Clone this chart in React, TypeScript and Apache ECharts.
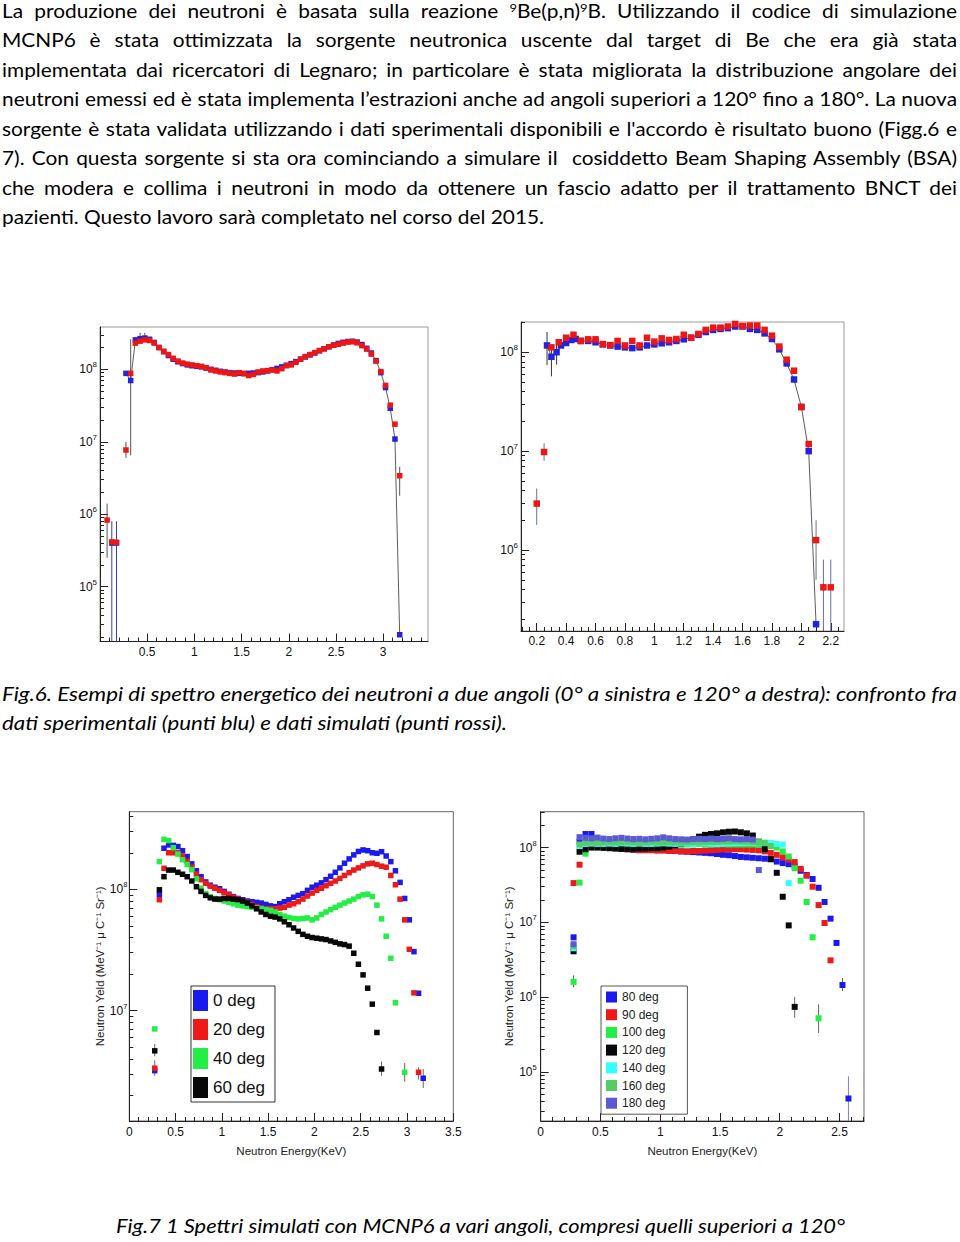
import React, { useEffect, useLayoutEffect, useRef } from 'react';
import * as echarts from 'echarts';

// ================= Fig. 6 left : 0 deg, measured (blue) vs simulated (red)
const fig6aEnergy = [0.075,0.125,0.175,0.225,0.275,0.325,0.375,0.425,0.475,0.525,0.575,0.625,0.675,0.725,0.775,0.825,0.875,0.925,0.975,1.025,1.075,1.125,1.175,1.225,1.275,1.325,1.375,1.425,1.475,1.525,1.575,1.625,1.675,1.725,1.775,1.825,1.875,1.925,1.975,2.025,2.075,2.125,2.175,2.225,2.275,2.325,2.375,2.425,2.475,2.525,2.575,2.625,2.675,2.725,2.775,2.825,2.875,2.925,2.975,3.025,3.075,3.125,3.175];
const fig6aSimulated = [8.3e5,4.15e5,4.1e5,null,7.7e6,8.8e7,2.3e8,2.45e8,2.55e8,2.5e8,2.3e8,2.0e8,1.78e8,1.6e8,1.42e8,1.3e8,1.22e8,1.18e8,1.15e8,1.12e8,1.1e8,1.05e8,9.8e7,9.5e7,9.2e7,9.0e7,8.8e7,8.6e7,9.0e7,8.8e7,8.2e7,8.5e7,9.2e7,9.5e7,9.6e7,9.8e7,9.5e7,1.02e8,1.12e8,1.15e8,1.25e8,1.38e8,1.5e8,1.6e8,1.7e8,1.82e8,1.92e8,2.05e8,2.15e8,2.22e8,2.3e8,2.38e8,2.4e8,2.32e8,2.12e8,1.9e8,1.62e8,1.3e8,9.3e7,6.0e7,3.2e7,1.75e7,3.4e6];
const fig6aMeasured = [null,4.0e5,4.0e5,null,8.8e7,7.0e7,2.55e8,2.65e8,2.7e8,2.6e8,2.35e8,2.0e8,1.75e8,1.55e8,1.38e8,1.27e8,1.2e8,1.15e8,1.12e8,1.1e8,1.08e8,1.04e8,1.0e8,9.7e7,9.4e7,9.2e7,9.0e7,8.9e7,8.8e7,8.7e7,8.8e7,8.9e7,9.0e7,9.2e7,9.5e7,9.9e7,1.03e8,1.08e8,1.14e8,1.2e8,1.28e8,1.38e8,1.48e8,1.58e8,1.68e8,1.8e8,1.92e8,2.05e8,2.17e8,2.28e8,2.36e8,2.42e8,2.44e8,2.38e8,2.2e8,1.95e8,1.68e8,1.32e8,9.0e7,5.6e7,2.9e7,1.09e7,2.17e4];
const fig6aErrors = [[0.075,2.5e5,1.4e6],[0.275,6.0e6,1.0e7],[0.325,6.5e6,2.6e8],[0.425,2.4e8,3.2e8],[0.475,2.5e8,3.2e8],[3.175,1.8e6,4.5e6]];
const fig6aMeasuredErrors = [[0.125,1.75e4,8.0e5],[0.175,1.75e4,8.0e5]];
const fig6aXLabels = [0.5,1,1.5,2,2.5,3];
const fig6aYLabels = [1e5,1e6,1e7,1e8];

// ================= Fig. 6 right : 120 deg
const fig6bSimEnergy = [0.2,0.25,0.3,0.35,0.4,0.45,0.5,0.55,0.6,0.65,0.7,0.75,0.8,0.85,0.9,0.95,1.0,1.05,1.1,1.15,1.2,1.25,1.3,1.35,1.4,1.45,1.5,1.55,1.6,1.65,1.7,1.75,1.8,1.85,1.9,1.95,2.0,2.05,2.1,2.15,2.2];
const fig6bSimulated = [2.95e6,9.8e6,1.12e8,1.26e8,1.4e8,1.5e8,1.3e8,1.35e8,1.35e8,1.21e8,1.18e8,1.3e8,1.17e8,1.3e8,1.17e8,1.4e8,1.28e8,1.38e8,1.33e8,1.36e8,1.5e8,1.4e8,1.53e8,1.68e8,1.77e8,1.77e8,1.82e8,1.93e8,1.84e8,1.86e8,1.86e8,1.68e8,1.47e8,1.14e8,8.4e7,6.5e7,2.79e7,1.18e7,1.26e6,4.2e5,4.2e5];
const fig6bMeasEnergy = [0.27,0.3,0.335,0.365,0.4,0.435,0.465,0.5,0.55,0.6,0.65,0.7,0.75,0.8,0.85,0.9,0.95,1.0,1.05,1.1,1.15,1.2,1.25,1.3,1.35,1.4,1.45,1.5,1.55,1.6,1.65,1.7,1.75,1.8,1.85,1.9,1.95,2.0,2.05,2.1];
const fig6bMeasured = [1.17e8,9.0e7,1.0e8,1.17e8,1.24e8,1.33e8,1.36e8,1.3e8,1.3e8,1.26e8,1.2e8,1.17e8,1.14e8,1.12e8,1.1e8,1.12e8,1.17e8,1.2e8,1.23e8,1.26e8,1.3e8,1.35e8,1.4e8,1.5e8,1.6e8,1.68e8,1.72e8,1.75e8,1.82e8,1.82e8,1.72e8,1.68e8,1.55e8,1.36e8,1.07e8,7.7e7,5.3e7,2.8e7,1.0e7,1.78e5];
const fig6bErrors = [[0.2,1.8e6,4.2e6],[0.25,8.0e6,1.2e7],[2.1,5.0e5,2.0e6],[2.15,1.52e5,8.0e5],[2.2,1.52e5,8.0e5]];
const fig6bMeasuredErrors = [[0.27,7.4e7,1.6e8],[0.3,5.7e7,1.15e8],[0.335,7.5e7,1.3e8]];
const fig6bXLabels = [0.2,0.4,0.6,0.8,1,1.2,1.4,1.6,1.8,2,2.2];
const fig6bYLabels = [1e6,1e7,1e8];

// ================= Fig. 7 left : 0 - 60 deg
const fig7aEnergy = [0.275,0.325,0.375,0.425,0.475,0.525,0.575,0.625,0.675,0.725,0.775,0.825,0.875,0.925,0.975,1.025,1.075,1.125,1.175,1.225,1.275,1.325,1.375,1.425,1.475,1.525,1.575,1.625,1.675,1.725,1.775,1.825,1.875,1.925,1.975,2.025,2.075,2.125,2.175,2.225,2.275,2.325,2.375,2.425,2.475,2.525,2.575,2.625,2.675,2.725,2.775,2.825,2.875,2.925,2.975,3.025,3.075,3.125,3.175];
const fig7aDeg0 = [3.2e6,9.0e7,2.18e8,2.32e8,2.3e8,2.25e8,2.08e8,1.86e8,1.62e8,1.42e8,1.27e8,1.15e8,1.08e8,1.04e8,1.01e8,9.6e7,9.1e7,8.7e7,8.4e7,8.2e7,8.0e7,7.9e7,7.8e7,7.7e7,7.5e7,7.3e7,7.2e7,7.6e7,7.9e7,8.2e7,8.6e7,8.9e7,9.2e7,9.8e7,1.04e8,1.08e8,1.13e8,1.2e8,1.28e8,1.38e8,1.5e8,1.64e8,1.78e8,1.92e8,2.05e8,2.11e8,2.08e8,2.0e8,1.98e8,2.04e8,1.88e8,1.69e8,1.42e8,1.14e8,8.4e7,5.6e7,3.06e7,1.39e7,2.77e6];
const fig7aDeg20 = [3.35e6,8.2e7,1.49e8,2.0e8,2.0e8,2.0e8,1.88e8,1.7e8,1.52e8,1.34e8,1.2e8,1.12e8,1.06e8,1.02e8,9.8e7,9.4e7,9.0e7,8.6e7,8.3e7,8.0e7,7.8e7,7.5e7,7.2e7,7.0e7,6.9e7,6.9e7,6.9e7,7.0e7,7.1e7,7.4e7,7.6e7,7.9e7,8.3e7,8.8e7,9.3e7,9.8e7,1.02e8,1.07e8,1.12e8,1.17e8,1.23e8,1.3e8,1.37e8,1.44e8,1.5e8,1.56e8,1.62e8,1.64e8,1.6e8,1.55e8,1.52e8,1.3e8,1.09e8,8.3e7,5.6e7,3.2e7,1.4e7,3.1e6,null];
const fig7aDeg40 = [7.06e6,1.69e8,2.58e8,2.52e8,2.2e8,1.95e8,1.75e8,1.6e8,1.45e8,1.22e8,1.02e8,9.2e7,8.7e7,8.4e7,8.2e7,8.0e7,7.8e7,7.6e7,7.4e7,7.3e7,7.2e7,7.1e7,7.0e7,6.9e7,6.8e7,6.7e7,6.5e7,6.2e7,6.0e7,5.85e7,5.75e7,5.7e7,5.75e7,5.8e7,5.6e7,5.8e7,6.2e7,6.5e7,6.8e7,7.1e7,7.4e7,7.7e7,8.0e7,8.3e7,8.7e7,9.0e7,9.1e7,8.7e7,7.4e7,5.7e7,4.1e7,2.7e7,1.16e7,null,3.1e6,null,null,null,null];
const fig7aDeg60 = [4.66e6,9.9e7,1.27e8,1.44e8,1.44e8,1.38e8,1.33e8,1.27e8,1.17e8,1.05e8,9.6e7,8.9e7,8.5e7,8.3e7,8.3e7,8.4e7,8.4e7,8.3e7,8.2e7,8.0e7,7.7e7,7.3e7,6.9e7,6.5e7,6.2e7,6.0e7,5.9e7,5.7e7,5.4e7,5.1e7,4.8e7,4.5e7,4.25e7,4.1e7,4.0e7,3.95e7,3.9e7,3.85e7,3.75e7,3.65e7,3.55e7,3.5e7,3.4e7,2.97e7,2.41e7,1.97e7,1.53e7,1.13e7,6.6e6,3.3e6,null,null,null,null,null,null,null,null,null];
const fig7aErrors = [[0.275,4.2e6,5.3e6],[0.275,2.9e6,3.9e6],[2.725,2.9e6,3.8e6],[2.975,2.6e6,3.7e6],[3.125,2.7e6,3.4e6],[3.175,2.3e6,3.3e6]];
const fig7aXLabels = [0,0.5,1,1.5,2,2.5,3,3.5];
const fig7aYLabels = [1e7,1e8];
const fig7aNames = ['0 deg','20 deg','40 deg','60 deg'];

// ================= Fig. 7 right : 80 - 180 deg
const fig7bEnergy = [0.275,0.325,0.375,0.425,0.475,0.525,0.575,0.625,0.675,0.725,0.775,0.825,0.875,0.925,0.975,1.025,1.075,1.125,1.175,1.225,1.275,1.325,1.375,1.425,1.475,1.525,1.575,1.625,1.675,1.725,1.775,1.825,1.875,1.925,1.975,2.025,2.075,2.125,2.175,2.225,2.275,2.325,2.375,2.425,2.475,2.525,2.575];
const fig7bDeg80 = [6.3e6,1.2e8,1.52e8,1.52e8,1.3e8,1.15e8,1.05e8,1.0e8,9.7e7,9.5e7,9.3e7,9.2e7,9.3e7,9.4e7,9.4e7,9.3e7,9.2e7,9.0e7,8.9e7,8.8e7,8.7e7,8.6e7,8.5e7,8.4e7,8.2e7,8.0e7,7.9e7,7.7e7,7.5e7,7.4e7,7.3e7,7.2e7,7.1e7,7.0e7,6.5e7,6.2e7,6.0e7,5.6e7,4.9e7,4.3e7,3.8e7,2.9e7,1.87e7,1.12e7,5.3e6,1.45e6,4.4e4];
const fig7bDeg90 = [3.35e7,5.9e7,1.0e8,1.05e8,1.05e8,1.03e8,1.0e8,9.8e7,9.6e7,9.5e7,9.4e7,9.3e7,9.2e7,9.2e7,9.1e7,9.1e7,9.0e7,9.0e7,8.9e7,8.9e7,9.0e7,9.0e7,9.1e7,9.2e7,9.3e7,9.4e7,9.5e7,9.5e7,9.5e7,9.4e7,9.3e7,9.2e7,8.9e7,8.5e7,8.0e7,7.4e7,6.9e7,6.4e7,5.2e7,4.2e7,3.0e7,1.7e7,9.8e6,3.1e6,null,null,null];
const fig7bDeg100 = [1.6e6,3.4e7,8.3e7,1.05e8,1.1e8,1.11e8,1.1e8,1.09e8,1.1e8,1.1e8,1.11e8,1.1e8,1.09e8,1.1e8,1.1e8,1.11e8,1.1e8,1.1e8,1.09e8,1.1e8,1.1e8,1.11e8,1.1e8,1.1e8,1.1e8,1.11e8,1.1e8,1.1e8,1.1e8,1.1e8,1.1e8,1.09e8,1.08e8,1.05e8,1.0e8,8.9e7,7.6e7,5.3e7,3.6e7,1.87e7,6.3e6,5.2e5,null,null,null,null,null];
const fig7bDeg120 = [4.1e6,8.8e7,9.5e7,1.0e8,1.0e8,9.9e7,9.8e7,9.7e7,9.6e7,9.6e7,9.6e7,9.7e7,9.7e7,9.8e7,9.8e7,1.0e8,1.03e8,1.07e8,1.12e8,1.2e8,1.3e8,1.4e8,1.48e8,1.52e8,1.55e8,1.6e8,1.63e8,1.64e8,1.6e8,1.55e8,1.45e8,1.2e8,9.5e7,7.0e7,4.6e7,2.2e7,9.1e6,7.4e5,null,null,null,null,null,null,null,null,null];
const fig7bDeg140 = [4.5e6,1.05e8,1.12e8,1.13e8,1.12e8,1.12e8,1.13e8,1.12e8,1.14e8,1.13e8,1.12e8,1.13e8,1.12e8,1.12e8,1.13e8,1.14e8,1.13e8,1.12e8,1.13e8,1.13e8,1.12e8,1.13e8,1.14e8,1.13e8,1.12e8,1.13e8,1.14e8,1.15e8,1.15e8,1.16e8,1.16e8,1.17e8,1.17e8,1.15e8,1.12e8,1.1e8,3.35e7,null,null,null,null,null,null,null,null,null,null];
const fig7bDeg160 = [4.8e6,1.1e8,1.16e8,1.17e8,1.16e8,1.17e8,1.18e8,1.17e8,1.17e8,1.18e8,1.17e8,1.16e8,1.17e8,1.18e8,1.17e8,1.17e8,1.18e8,1.17e8,1.16e8,1.17e8,1.18e8,1.17e8,1.18e8,1.19e8,1.19e8,1.2e8,1.2e8,1.21e8,1.2e8,1.2e8,1.19e8,1.18e8,1.15e8,1.05e8,null,null,null,null,null,null,null,null,null,null,null,null,null];
const fig7bDeg180 = [5.1e6,1.38e8,1.35e8,1.33e8,1.36e8,1.32e8,1.3e8,1.33e8,1.35e8,1.32e8,1.3e8,1.31e8,1.29e8,1.31e8,1.33e8,1.37e8,1.33e8,1.3e8,1.29e8,1.28e8,1.3e8,1.31e8,1.3e8,1.32e8,1.3e8,1.31e8,1.33e8,1.3e8,1.29e8,1.3e8,1.28e8,5.0e7,null,null,null,null,null,null,null,null,null,null,null,null,null,null,null];
const fig7bErrors = [[0.275,1.35e6,1.95e6],[2.125,5.3e5,1.0e6],[2.325,3.3e5,8.0e5],[2.525,1.2e6,1.8e6]];
const fig7bTailError = [[2.575,2.2e4,8.7e4]];
const fig7bXLabels = [0,0.5,1,1.5,2,2.5];
const fig7bYLabels = [1e5,1e6,1e7,1e8];
const fig7bNames = ['80 deg','90 deg','100 deg','120 deg','140 deg','160 deg','180 deg'];

const xTitle = 'Neutron Energy(KeV)';
const yTitle = 'Neutron Yeld (MeV\u207B\u00B9 \u03BC C\u207B\u00B9 Sr\u207B\u00B9)';

const FONT_AXIS = '"Liberation Sans", Arial, Helvetica, sans-serif';
const FONT_TEXT = 'Lato, "Open Sans", "Liberation Sans", sans-serif';

function linearTicks(from: number, to: number, step: number) {
  const out: number[] = [];
  const n = Math.round((to - from) / step);
  for (let i = 0; i <= n; i++) out.push(Number((from + i * step).toFixed(4)));
  return out;
}
function decadeTicks(e0: number, e1: number) {
  const out: number[] = [];
  for (let e = e0; e <= e1; e++) for (let m = 2; m <= 9; m++) out.push(m * Math.pow(10, e));
  return out;
}
function pts(xs: number[], ys: (number | null)[]) {
  const out: number[][] = [];
  ys.forEach((y, i) => { if (y != null) out.push([xs[i], y]); });
  return out;
}
function ptsWithGaps(xs: number[], ys: (number | null)[]) {
  return ys.map((y, i) => (y == null ? [xs[i], '-'] : [xs[i], y]));
}

type Panel = {
  grid: { left: number; top: number; width: number; height: number };
  x: [number, number]; y: [number, number];
  xLabels: number[]; xMinor: number[]; yLabels: number[]; yMinor: number[];
  font: number; sup: number; xMargin: number; yMargin: number; border: string;
  xName?: string; yName?: string; xNameGap?: number; yNameGap?: number;
};

const panels: Panel[] = [
  { grid: { left: 100, top: 327, width: 328, height: 314.5 }, x: [0, 3.475], y: [1.75e4, 3.84e8],
    xLabels: fig6aXLabels, xMinor: linearTicks(0.1, 3.4, 0.1), yLabels: fig6aYLabels, yMinor: decadeTicks(4, 8),
    font: 12, sup: 8, xMargin: 4, yMargin: 3, border: '#9a9a9a' },
  { grid: { left: 521, top: 322, width: 323, height: 309 }, x: [0.093, 2.29], y: [1.52e5, 2.02e8],
    xLabels: fig6bXLabels, xMinor: linearTicks(0.1, 2.25, 0.05), yLabels: fig6bYLabels, yMinor: decadeTicks(5, 8),
    font: 12, sup: 8, xMargin: 4, yMargin: 3, border: '#9a9a9a' },
  { grid: { left: 129.3, top: 811.7, width: 324, height: 309.3 }, x: [0, 3.5], y: [1.23e6, 4.36e8],
    xLabels: fig7aXLabels, xMinor: linearTicks(0.1, 3.4, 0.1), yLabels: fig7aYLabels, yMinor: decadeTicks(6, 8),
    font: 12, sup: 7.5, xMargin: 5, yMargin: 2, border: '#666',
    xName: xTitle, yName: yTitle, xNameGap: 24, yNameGap: 23 },
  { grid: { left: 540.7, top: 811.7, width: 323.3, height: 309.3 }, x: [0, 2.705], y: [2.2e4, 3.02e8],
    xLabels: fig7bXLabels, xMinor: linearTicks(0.1, 2.7, 0.1), yLabels: fig7bYLabels, yMinor: decadeTicks(4, 8),
    font: 12, sup: 7.5, xMargin: 5, yMargin: 4, border: '#666',
    xName: xTitle, yName: yTitle, xNameGap: 24, yNameGap: 24 },
];

function buildOption() {
  const grid: any[] = [];
  const xAxis: any[] = [];
  const yAxis: any[] = [];
  panels.forEach((p, gi) => {
    grid.push({ ...p.grid, show: true, borderColor: p.border, borderWidth: 1, backgroundColor: 'transparent' });
    const inRange = (v: number, r: [number, number]) => v >= r[0] && v <= r[1];
    const lbl = { fontFamily: FONT_AXIS, fontSize: p.font, color: '#111' };
    xAxis.push({
      type: 'value', gridIndex: gi, min: p.x[0], max: p.x[1], position: 'bottom',
      axisLine: { show: true, onZero: false, lineStyle: { color: '#222', width: 1 } },
      axisTick: { show: true, inside: true, length: 8, customValues: p.xLabels, lineStyle: { color: '#222' } },
      axisLabel: { show: true, customValues: p.xLabels, margin: p.xMargin, ...lbl },
      splitLine: { show: false },
      name: p.xName, nameLocation: 'middle', nameGap: p.xNameGap,
      nameTextStyle: { fontFamily: FONT_AXIS, fontSize: 11.5, color: '#222' },
    });
    xAxis.push({
      type: 'value', gridIndex: gi, min: p.x[0], max: p.x[1], position: 'bottom',
      axisLine: { show: false },
      axisTick: { show: true, inside: true, length: 4, customValues: p.xMinor.filter(v => inRange(v, p.x)), lineStyle: { color: '#222' } },
      axisLabel: { show: false }, splitLine: { show: false },
    });
    yAxis.push({
      type: 'log', logBase: 10, gridIndex: gi, min: p.y[0], max: p.y[1], position: 'left',
      axisLine: { show: true, onZero: false, lineStyle: { color: '#222', width: 1 } },
      axisTick: { show: true, inside: true, length: 8, customValues: p.yLabels, lineStyle: { color: '#222' } },
      axisLabel: {
        show: true, customValues: p.yLabels, margin: p.yMargin,
        formatter: (v: number) => `{b|10}{s|${Math.round(Math.log10(v))}}`,
        rich: {
          b: { fontFamily: FONT_AXIS, fontSize: p.font, color: '#111', lineHeight: p.font + 5 },
          s: { fontFamily: FONT_AXIS, fontSize: p.sup, color: '#111', lineHeight: p.sup + 1, verticalAlign: 'top' },
        },
      },
      splitLine: { show: false },
      name: p.yName, nameLocation: 'middle', nameGap: p.yNameGap,
      nameTextStyle: { fontFamily: FONT_AXIS, fontSize: 11.5, color: '#222' },
    });
    yAxis.push({
      type: 'log', logBase: 10, gridIndex: gi, min: p.y[0], max: p.y[1], position: 'left',
      axisLine: { show: false },
      axisTick: { show: true, inside: true, length: 4, customValues: p.yMinor.filter(v => inRange(v, p.y)), lineStyle: { color: '#222' } },
      axisLabel: { show: false }, splitLine: { show: false },
    });
  });

  const scatter = (name: string, gi: number, xs: number[], ys: (number | null)[], color: string, size: number) => ({
    name, type: 'scatter', xAxisIndex: 2 * gi, yAxisIndex: 2 * gi, symbol: 'rect', symbolSize: size,
    itemStyle: { color, opacity: 1 }, data: pts(xs, ys), silent: true, z: 3,
  });
  const errors = (gi: number, data: number[][], color: string) => ({
    type: 'custom', xAxisIndex: 2 * gi, yAxisIndex: 2 * gi, clip: true, silent: true, z: 2,
    encode: { x: 0, y: [1, 2] },
    renderItem: (_params: any, api: any) => {
      const a = api.coord([api.value(0), api.value(1)]);
      const b = api.coord([api.value(0), api.value(2)]);
      return { type: 'line', shape: { x1: a[0], y1: a[1], x2: b[0], y2: b[1] }, style: { stroke: color, lineWidth: 1 } };
    },
    data,
  });
  const thinLine = (gi: number, xs: number[], ys: (number | null)[]) => ({
    type: 'line', xAxisIndex: 2 * gi, yAxisIndex: 2 * gi, data: ptsWithGaps(xs, ys), connectNulls: false,
    symbol: 'none', showSymbol: false, lineStyle: { color: '#333', width: 0.8 }, silent: true, z: 2,
  });

  const BLUE = '#2323dc', RED = '#ee1515';
  const series: any[] = [
    // Fig 6 left
    errors(0, fig6aMeasuredErrors, '#3040b0'),
    errors(0, fig6aErrors, '#555'),
    thinLine(0, fig6aEnergy, fig6aMeasured),
    scatter('fig6a measured', 0, fig6aEnergy, fig6aMeasured, BLUE, 5.5),
    scatter('fig6a simulated', 0, fig6aEnergy, fig6aSimulated, RED, 5.5),
    // Fig 6 right
    errors(1, fig6bErrors, '#6670a0'),
    errors(1, fig6bMeasuredErrors, '#333'),
    thinLine(1, fig6bMeasEnergy, fig6bMeasured),
    scatter('fig6b measured', 1, fig6bMeasEnergy, fig6bMeasured, BLUE, 6.5),
    scatter('fig6b simulated', 1, fig6bSimEnergy, fig6bSimulated, RED, 6.5),
    // Fig 7 left
    errors(2, fig7aErrors, '#666'),
    scatter(fig7aNames[0], 2, fig7aEnergy, fig7aDeg0, '#1a1aee', 5.5),
    scatter(fig7aNames[1], 2, fig7aEnergy, fig7aDeg20, '#ee1a1a', 5.5),
    scatter(fig7aNames[2], 2, fig7aEnergy, fig7aDeg40, '#22ee44', 5.5),
    scatter(fig7aNames[3], 2, fig7aEnergy, fig7aDeg60, '#080808', 5.5),
    // Fig 7 right
    errors(3, fig7bErrors, '#666'),
    errors(3, fig7bTailError, '#8080d8'),
    scatter(fig7bNames[0], 3, fig7bEnergy, fig7bDeg80, '#1a1aee', 6),
    scatter(fig7bNames[1], 3, fig7bEnergy, fig7bDeg90, '#ee1a1a', 6),
    scatter(fig7bNames[2], 3, fig7bEnergy, fig7bDeg100, '#22ee44', 6),
    scatter(fig7bNames[3], 3, fig7bEnergy, fig7bDeg120, '#080808', 6),
    scatter(fig7bNames[4], 3, fig7bEnergy, fig7bDeg140, '#33ffff', 6),
    scatter(fig7bNames[5], 3, fig7bEnergy, fig7bDeg160, '#55cc66', 6),
    scatter(fig7bNames[6], 3, fig7bEnergy, fig7bDeg180, '#5a5ad2', 6),
  ];

  return {
    animation: false,
    backgroundColor: 'transparent',
    textStyle: { fontFamily: FONT_AXIS },
    grid, xAxis, yAxis, series,
    legend: [
      {
        data: fig7aNames, orient: 'vertical', left: 191, top: 986, icon: 'rect',
        itemWidth: 15, itemHeight: 21, itemGap: 8, padding: [4, 10, 4, 2],
        borderColor: '#333', borderWidth: 1, backgroundColor: '#fff', selectedMode: false,
        textStyle: { fontFamily: FONT_AXIS, fontSize: 17, color: '#111' },
      },
      {
        data: fig7bNames, orient: 'vertical', left: 601, top: 986, icon: 'rect',
        itemWidth: 11, itemHeight: 11, itemGap: 5.7, padding: [5, 22, 5, 5],
        borderColor: '#555', borderWidth: 1, backgroundColor: '#fff', selectedMode: false,
        textStyle: { fontFamily: FONT_AXIS, fontSize: 12, color: '#222' },
      },
    ],
  };
}

const sup9 = <sup style={{ fontSize: '0.62em', verticalAlign: '0.55em', lineHeight: 0 }}>9</sup>;

type LineDef = { baseline: number; left: number; width: number; mode: 'justify' | 'natural'; group: string; italic?: boolean; content: React.ReactNode };

const bodyLines: LineDef[] = [
  { baseline: 17.8, left: 2, width: 955, mode: 'justify', group: 'body', content: <>La produzione dei neutroni è basata sulla reazione {sup9}Be(p,n){sup9}B. Utilizzando il codice di simulazione</> },
  { baseline: 47.2, left: 2, width: 955, mode: 'justify', group: 'body', content: 'MCNP6 è stata ottimizzata la sorgente neutronica uscente dal target di Be che era già stata' },
  { baseline: 76.7, left: 2, width: 955, mode: 'justify', group: 'body', content: 'implementata dai ricercatori di Legnaro; in particolare è stata migliorata la distribuzione angolare dei' },
  { baseline: 106.1, left: 2, width: 955, mode: 'justify', group: 'body', content: 'neutroni emessi ed è stata implementa l\u2019estrazioni anche ad angoli superiori a 120° fino a 180°. La nuova' },
  { baseline: 135.6, left: 2, width: 955, mode: 'justify', group: 'body', content: "sorgente è stata validata utilizzando i dati sperimentali disponibili e l'accordo è risultato buono (Figg.6 e" },
  { baseline: 165.0, left: 2, width: 955, mode: 'justify', group: 'body', content: '7). Con questa sorgente si sta ora cominciando a simulare il  cosiddetto Beam Shaping Assembly (BSA)' },
  { baseline: 194.5, left: 2, width: 955, mode: 'justify', group: 'body', content: 'che modera e collima i neutroni in modo da ottenere un fascio adatto per il trattamento BNCT dei' },
  { baseline: 224.0, left: 2, width: 542, mode: 'natural', group: 'body', content: 'pazienti. Questo lavoro sarà completato nel corso del 2015.' },
  { baseline: 700.5, left: 2, width: 955, mode: 'justify', group: 'cap', italic: true, content: 'Fig.6. Esempi di spettro energetico dei neutroni a due angoli (0° a sinistra e 120° a destra): confronto fra' },
  { baseline: 730.0, left: 2, width: 505, mode: 'natural', group: 'cap', italic: true, content: 'dati sperimentali (punti blu) e dati simulati (punti rossi).' },
  { baseline: 1232.5, left: 116, width: 729, mode: 'justify', group: 'cap', italic: true, content: 'Fig.7 1 Spettri simulati con MCNP6 a vari angoli, compresi quelli superiori a 120°' },
];

const TEXT_SIZE = 19;

function fitLines(root: HTMLElement) {
  const groups: Record<string, HTMLElement[]> = {};
  root.querySelectorAll<HTMLElement>('[data-fit]').forEach((el) => {
    const g = el.dataset.fit as string;
    (groups[g] = groups[g] || []).push(el);
  });
  Object.keys(groups).forEach((g) => {
    const els = groups[g];
    els.forEach((el) => { el.style.transform = 'none'; el.style.wordSpacing = '0px'; });
    const widths = els.map((el) => el.getBoundingClientRect().width);
    let base = 1;
    els.forEach((el, i) => { if (el.dataset.mode === 'natural') base = Number(el.dataset.w) / widths[i]; });
    els.forEach((el, i) => {
      const target = Number(el.dataset.w);
      const w = widths[i];
      if (el.dataset.mode === 'natural') { el.style.transform = `scaleX(${target / w})`; return; }
      let s = base;
      if (w * s > target) s = target / w;
      el.style.transform = `scaleX(${s})`;
      const spaces = (el.textContent || '').split(' ').length - 1;
      const extra = target / s - w;
      if (spaces > 0 && extra > 0.3) el.style.wordSpacing = `${extra / spaces}px`;
    });
  });
}

export default function App() {
  const chartRef = useRef<HTMLDivElement>(null);
  const textRef = useRef<HTMLDivElement>(null);

  useEffect(() => {
    const chart = echarts.init(chartRef.current as HTMLDivElement, undefined, { renderer: 'svg' });
    chart.setOption(buildOption() as any);
    return () => chart.dispose();
  }, []);

  useLayoutEffect(() => {
    const root = textRef.current as HTMLDivElement;
    fitLines(root);
    const fonts = (document as any).fonts;
    if (fonts && fonts.ready) fonts.ready.then(() => fitLines(root));
  }, []);

  return (
    <div style={{ position: 'absolute', left: 0, top: 0, width: 960, height: 1242, overflow: 'hidden', background: '#fff' }}>
      <div ref={chartRef} style={{ position: 'absolute', left: 0, top: 0, width: 960, height: 1242 }} />
      <div ref={textRef} style={{ position: 'absolute', left: 0, top: 0, width: 960, height: 1242, pointerEvents: 'none', fontFamily: FONT_TEXT, color: '#000' }}>
        {bodyLines.map((l, i) => (
          <span
            key={i}
            data-fit={l.group}
            data-w={l.width}
            data-mode={l.mode}
            style={{
              position: 'absolute', left: l.left, top: l.baseline - TEXT_SIZE * 0.887,
              fontSize: TEXT_SIZE, lineHeight: `${TEXT_SIZE}px`, whiteSpace: 'pre', display: 'inline-block',
              transformOrigin: '0 0', fontStyle: l.italic ? 'italic' : 'normal',
            }}
          >
            {l.content}
          </span>
        ))}
      </div>
    </div>
  );
}
